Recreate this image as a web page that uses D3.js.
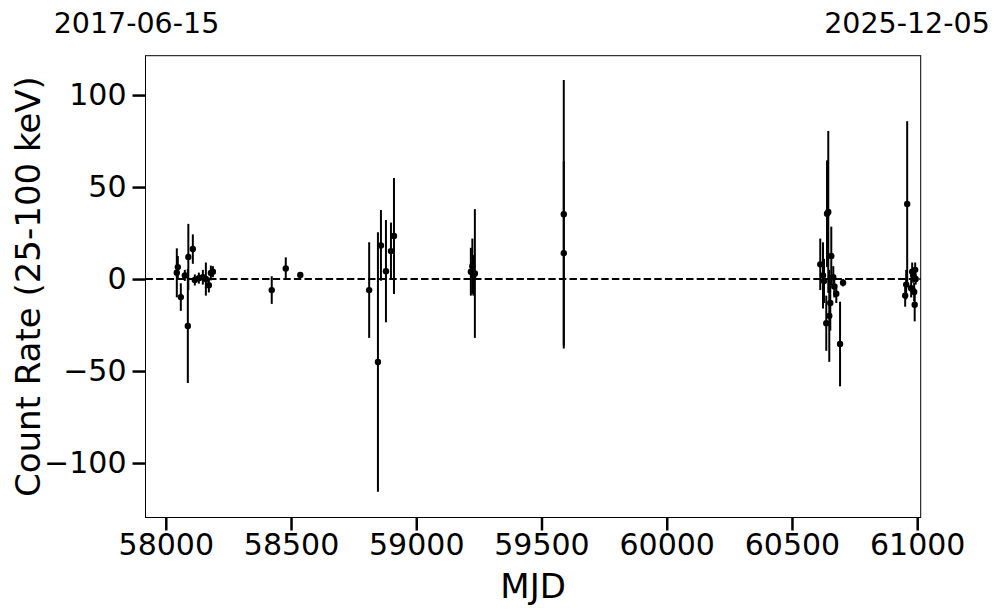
<!DOCTYPE html>
<meta charset="utf-8">
<style>
  body { margin: 0; background: white; }
  svg { display: block; font-family: "DejaVu Sans", sans-serif; }
  .axis path { stroke: none; }
  .axis line { stroke: black; stroke-width: 2.5; }
  .axis text { font-size: 30px; fill: black; font-family: "DejaVu Sans", sans-serif; }
</style>
<body>
<div class="chart"></div>
<script src="https://d3js.org/d3.v7.min.js"></script>
<script>

// light curve points: MJD, count rate, 1-sigma error
var mjd = [58044, 58048, 58060, 58076, 58088, 58090, 58108, 58116, 58132, 58148, 58160, 58172, 58180, 58188,
           58423, 58479, 58537,
           58812, 58847, 58859, 58879, 58899, 58911,
           59218, 59224, 59228, 59234,
           59589, 59589,
           60613, 60624, 60628, 60637, 60640, 60645, 60649, 60653, 60657, 60665, 60669, 60677, 60692, 60704,
           60952, 60956, 60960, 60976, 60980, 60984, 60988, 60990, 60992, 60994];
var rate = [3.4, 6.5, -9.8, 2, -25.5, 12, 16.3, -0.5, 0.5, 1, 0, -3.3, 3.3, 4,
            -6, 5.8, 2.2,
            -6, -45.1, 18.3, 4.3, 15.2, 23.4,
            4, 7, 2, 3,
            35.2, 14,
            8, 2, -1, -24, 35.5, 36.5, -20, -13, 12.5, 1, -4, -8, -35.3, -2,
            -9, -3, 40.8, -5, 4, 2, -7, -14, 5, 0];
var err = [13.3, 6, 7.5, 3, 31, 18, 8, 3, 3, 4, 9, 4, 4, 3,
           7.5, 6, 1,
           26, 70.5, 19.2, 27.8, 15.5, 31.5,
           13, 15, 11, 35,
           73, 50,
           14, 18, 12, 15, 29, 44, 25, 15, 16, 6, 6, 5, 23, 2,
           6, 8, 45, 5, 5, 4, 5, 9, 4, 3];

var xTicks = [58000, 58500, 59000, 59500, 60000, 60500, 61000];
var yTicks = [-100, -50, 0, 50, 100];
var dateLabels = ["2017-06-15", "2025-12-05"];

var data = mjd.map(function (d, i) { return {mjd: d, rate: rate[i], err: err[i]}; });

var width = 997, height = 613,
    margin = {top: 55.7, right: 76.3, bottom: 95.5, left: 145.5};

var svg = d3.select(".chart").append("svg")
    .attr("width", width)
    .attr("height", height);

var xScale = d3.scaleLinear()
    .domain([57919, 61014])
    .range([margin.left, width - margin.right]);

var yScale = d3.scaleLinear()
    .domain([-129.6, 121.4])
    .range([height - margin.bottom, margin.top]);

var minus = function (d) { return d3.format("d")(d).replace("-", "\u2212"); };

svg.append("g")
    .attr("class", "axis")
    .attr("transform", "translate(0," + (height - margin.bottom) + ")")
    .call(d3.axisBottom(xScale).tickValues(xTicks).tickSize(13).tickPadding(3.5).tickFormat(d3.format("d")));

svg.append("g")
    .attr("class", "axis")
    .attr("transform", "translate(" + margin.left + ",0)")
    .call(d3.axisLeft(yScale).tickValues(yTicks).tickSize(13).tickPadding(6).tickFormat(minus));

// zero line
svg.append("line")
    .attr("x1", xScale.range()[0]).attr("x2", xScale.range()[1])
    .attr("y1", yScale(0)).attr("y2", yScale(0))
    .attr("stroke", "black")
    .attr("stroke-width", 2)
    .attr("stroke-dasharray", "7.4,3.2");

// error bars
svg.selectAll(".ebar")
    .data(data)
    .enter().append("line")
    .attr("class", "ebar")
    .attr("x1", function (d) { return xScale(d.mjd); })
    .attr("x2", function (d) { return xScale(d.mjd); })
    .attr("y1", function (d) { return yScale(d.rate - d.err); })
    .attr("y2", function (d) { return yScale(d.rate + d.err); })
    .attr("stroke", "black")
    .attr("stroke-width", 2);

svg.selectAll(".dot")
    .data(data)
    .enter().append("circle")
    .attr("class", "dot")
    .attr("cx", function (d) { return xScale(d.mjd); })
    .attr("cy", function (d) { return yScale(d.rate); })
    .attr("r", 3.2)
    .attr("fill", "black");

// frame
svg.append("rect")
    .attr("x", margin.left)
    .attr("y", margin.top)
    .attr("width", width - margin.left - margin.right)
    .attr("height", height - margin.top - margin.bottom)
    .attr("fill", "none")
    .attr("stroke", "black")
    .attr("stroke-width", 1);

// axis titles
svg.append("text")
    .attr("x", (margin.left + width - margin.right) / 2)
    .attr("y", 598)
    .attr("text-anchor", "middle")
    .style("font-size", "34px")
    .text("MJD");

svg.append("text")
    .attr("transform", "translate(40," + (margin.top + (height - margin.bottom - margin.top) / 2) + ") rotate(-90)")
    .attr("text-anchor", "middle")
    .style("font-size", "34px")
    .text("Count Rate (25-100 keV)");

// calendar dates at the two ends
svg.selectAll(".date")
    .data(dateLabels)
    .enter().append("text")
    .attr("class", "date")
    .attr("x", function (d, i) { return i === 0 ? 136.5 : 907; })
    .attr("y", 33)
    .attr("text-anchor", "middle")
    .style("font-size", "28.5px")
    .text(function (d) { return d; });

</script>
</body>
